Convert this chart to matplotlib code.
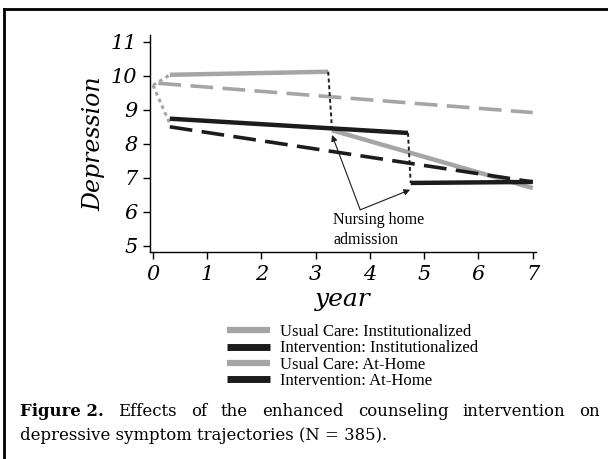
import matplotlib
matplotlib.use("Agg")
import matplotlib.pyplot as plt
from matplotlib.lines import Line2D

# data
baseline_x = 0.0
baseline_y = 9.72

uc_inst_x = [0.31, 3.23]
uc_inst_y = [10.03, 10.12]
uc_inst_after_x = [3.30, 7.0]
uc_inst_after_y = [8.40, 6.70]

int_inst_x = [0.31, 4.70]
int_inst_y = [8.74, 8.32]
int_inst_after_x = [4.75, 7.0]
int_inst_after_y = [6.85, 6.88]

uc_home_x = [0.10, 7.0]
uc_home_y = [9.78, 8.92]

int_home_x = [0.31, 7.0]
int_home_y = [8.50, 6.88]

x_ticks = [0, 1, 2, 3, 4, 5, 6, 7]
y_ticks = [5, 6, 7, 8, 9, 10, 11]

legend_labels = ["Usual Care: Institutionalized", "Intervention: Institutionalized",
                 "Usual Care: At-Home", "Intervention: At-Home"]

caption_bold = "Figure 2."
caption_line1 = "Effects of the enhanced counseling intervention on"
caption_line2 = "depressive symptom trajectories (N = 385)."

GRAY = "#a5a5a5"
BLACK = "#1c1c1c"

W, H = 608, 459
fig = plt.figure(figsize=(W / 100, H / 100), dpi=100)
ax = fig.add_axes([150 / W, 1 - 252 / H, 386 / W, 217 / H])

# connectors from the common baseline
ax.plot([baseline_x, uc_inst_x[0]], [baseline_y, uc_inst_y[0]], color=GRAY, lw=2.2, ls=(0, (1.2, 1.2)))
ax.plot([baseline_x, int_inst_x[0]], [baseline_y, int_home_y[0] + 0.1], color=GRAY, lw=2.2, ls=(0, (1.2, 1.2)))

# trajectories
ax.plot(uc_inst_x, uc_inst_y, color=GRAY, lw=3.2, solid_capstyle="butt")
ax.plot(uc_inst_after_x, uc_inst_after_y, color=GRAY, lw=3.2, solid_capstyle="butt")
ax.plot(int_inst_x, int_inst_y, color=BLACK, lw=3.2, solid_capstyle="butt")
ax.plot(int_inst_after_x, int_inst_after_y, color=BLACK, lw=3.2, solid_capstyle="butt")
ax.plot(uc_home_x, uc_home_y, color=GRAY, lw=2.6, ls=(0, (6.3, 2.6)))
ax.plot(int_home_x, int_home_y, color=BLACK, lw=2.6, ls=(0, (6.3, 2.6)))

# admission drops
ax.plot([uc_inst_x[1], uc_inst_after_x[0]], [uc_inst_y[1], uc_inst_after_y[0]],
        color=BLACK, lw=1.4, ls=(0, (2, 1.5)))
ax.plot([int_inst_x[1], int_inst_after_x[0]], [int_inst_y[1], int_inst_after_y[0]],
        color=BLACK, lw=1.4, ls=(0, (2, 1.5)))

# annotation
ax.text(3.32, 5.47, "Nursing home\nadmission", family="Liberation Serif", fontsize=11.5,
        va="center", ha="left", linespacing=1.3)
for tx, ty in [(3.30, 8.26), (4.74, 6.65)]:
    ax.annotate("", xy=(tx, ty), xytext=(3.82, 6.06),
                arrowprops=dict(arrowstyle="-|>", lw=0.8, color=BLACK, mutation_scale=9,
                                shrinkA=0, shrinkB=0))

ax.set_xlim(-0.055, 7.06)
ax.set_ylim(4.82, 11.2)
ax.set_xticks(x_ticks)
ax.set_yticks(y_ticks)
ax.spines["top"].set_visible(False)
ax.spines["right"].set_visible(False)
ax.spines["left"].set_linewidth(1.0)
ax.spines["bottom"].set_linewidth(1.0)
ax.tick_params(direction="out", length=5, width=1.0, pad=4)
for lab in ax.get_xticklabels() + ax.get_yticklabels():
    lab.set_family("DejaVu Serif")
    lab.set_style("italic")
    lab.set_fontsize(15)
ax.set_xlabel("year", family="DejaVu Serif", style="italic", fontsize=18, labelpad=3)
ax.set_ylabel("Depression", family="DejaVu Serif", style="italic", fontsize=17, labelpad=4)

handles = [Line2D([], [], color=GRAY, lw=4.5, solid_capstyle="butt"),
           Line2D([], [], color=BLACK, lw=5, solid_capstyle="butt"),
           Line2D([], [], color=GRAY, lw=4.5, solid_capstyle="butt"),
           Line2D([], [], color=BLACK, lw=5, solid_capstyle="butt")]
fig.legend(handles, legend_labels, loc="upper left", bbox_to_anchor=(227 / W, 1 - 324 / H),
           frameon=False, borderpad=0, borderaxespad=0, handlelength=2.6, handletextpad=0.6,
           labelspacing=0.02, prop={"family": "Liberation Serif", "size": 12})

# frame around the figure
fig.add_artist(Line2D([4 / W, 4 / W], [0, 1 - 9 / H], color="black", lw=2, transform=fig.transFigure))
fig.add_artist(Line2D([4 / W, 1], [1 - 9 / H, 1 - 9 / H], color="black", lw=2, transform=fig.transFigure))

# caption, first line justified
fig.canvas.draw()
renderer = fig.canvas.get_renderer()
cap_font = {"family": "DejaVu Serif", "size": 11.9}
x_left, x_right = 20, 600
y1 = 1 - 412 / H
y2 = 1 - 435 / H
words = [(caption_bold, "bold")] + [(w, "normal") for w in caption_line1.split()]
texts = []
for w, weight in words:
    t = fig.text(0, y1, w, va="center", ha="left", fontweight=weight, **cap_font)
    texts.append(t)
widths = [t.get_window_extent(renderer).width for t in texts]
gap = (x_right - x_left - sum(widths)) / (len(texts) - 1)
x = x_left
for t, wd in zip(texts, widths):
    t.set_x(x / W)
    x += wd + gap
fig.text(x_left / W, y2, caption_line2, va="center", ha="left", **cap_font)

fig.savefig("out.png", dpi=100)
